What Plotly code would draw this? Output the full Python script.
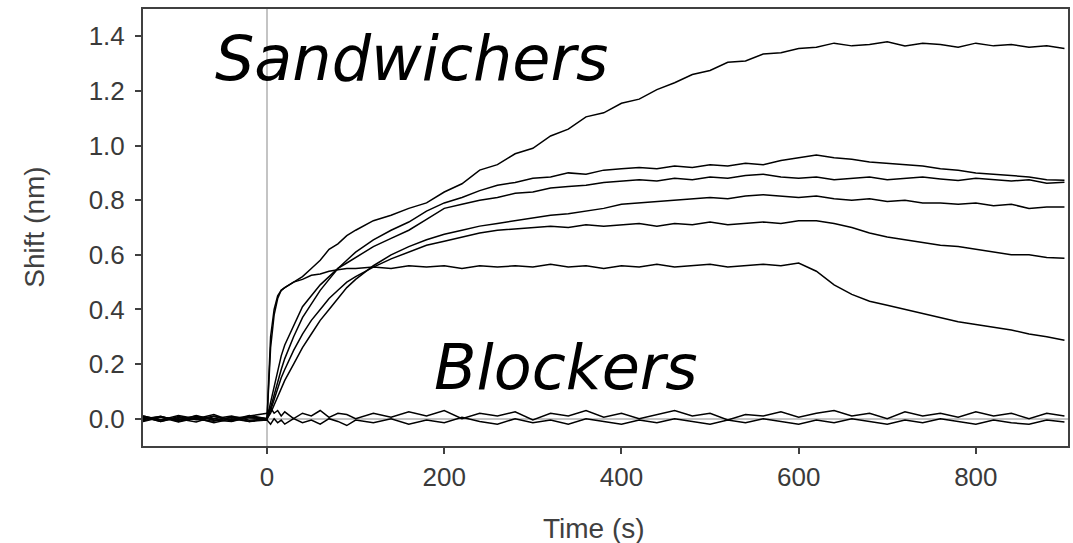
import plotly.graph_objects as go

# Time grid (s)
time_s = [-140, -120, -100, -80, -60, -40, -20, 0,
          4, 8, 12, 16, 20,
          30, 40, 50, 60, 70, 80, 90, 100,
          120, 140, 160, 180, 200, 220, 240, 260, 280, 300,
          320, 340, 360, 380, 400, 420, 440, 460, 480, 500,
          520, 540, 560, 580, 600, 620, 640, 660, 680, 700,
          720, 740, 760, 780, 800, 820, 840, 860, 880, 900]

# Sandwichers (nm)
sand_a = [0.005, -0.01, 0.008, -0.004, 0.01, -0.008, 0.006, 0.0,
          0.26, 0.38, 0.44, 0.47, 0.48,
          0.50, 0.52, 0.55, 0.58, 0.62, 0.64, 0.67, 0.69,
          0.725, 0.745, 0.77, 0.79, 0.83, 0.86, 0.91, 0.93, 0.97, 0.99,
          1.035, 1.06, 1.105, 1.12, 1.155, 1.17, 1.205, 1.23, 1.26, 1.275,
          1.305, 1.31, 1.335, 1.34, 1.355, 1.36, 1.375, 1.365, 1.37, 1.38,
          1.365, 1.375, 1.37, 1.36, 1.375, 1.365, 1.37, 1.36, 1.365, 1.355]
sand_b = [-0.008, 0.006, -0.003, 0.01, -0.006, 0.004, -0.01, 0.0,
          0.04, 0.09, 0.14, 0.18, 0.22,
          0.30, 0.37, 0.42, 0.47, 0.51, 0.55, 0.58, 0.61,
          0.655, 0.69, 0.72, 0.76, 0.79, 0.81, 0.835, 0.855, 0.865, 0.88,
          0.885, 0.90, 0.895, 0.91, 0.915, 0.92, 0.915, 0.925, 0.92, 0.93,
          0.925, 0.935, 0.93, 0.945, 0.955, 0.965, 0.955, 0.95, 0.94, 0.935,
          0.93, 0.925, 0.915, 0.91, 0.90, 0.895, 0.89, 0.885, 0.875, 0.873]
sand_c = [0.01, -0.005, 0.0, -0.012, 0.008, -0.004, 0.012, 0.0,
          0.06, 0.12, 0.18, 0.23, 0.27,
          0.34, 0.41, 0.45, 0.49, 0.52, 0.55, 0.57, 0.59,
          0.63, 0.66, 0.69, 0.73, 0.77, 0.785, 0.80, 0.81, 0.825, 0.83,
          0.845, 0.85, 0.855, 0.865, 0.87, 0.875, 0.87, 0.88, 0.875, 0.885,
          0.88, 0.89, 0.895, 0.885, 0.88, 0.885, 0.875, 0.88, 0.885, 0.875,
          0.88, 0.885, 0.878, 0.872, 0.88, 0.875, 0.87, 0.875, 0.862, 0.866]
sand_d = [-0.004, 0.009, -0.01, 0.005, 0.0, 0.01, -0.006, 0.0,
          0.02, 0.05, 0.08, 0.11, 0.14,
          0.20, 0.26, 0.31, 0.36, 0.40, 0.44, 0.48, 0.51,
          0.56, 0.60, 0.63, 0.655, 0.675, 0.69, 0.705, 0.715, 0.725, 0.735,
          0.745, 0.75, 0.76, 0.77, 0.785, 0.79, 0.795, 0.80, 0.805, 0.81,
          0.805, 0.815, 0.82, 0.815, 0.81, 0.815, 0.805, 0.80, 0.805, 0.795,
          0.80, 0.79, 0.79, 0.785, 0.79, 0.78, 0.785, 0.77, 0.775, 0.775]
sand_e = [0.007, -0.01, 0.004, -0.002, -0.009, 0.006, 0.003, 0.0,
          0.03, 0.07, 0.11, 0.15, 0.18,
          0.25, 0.31, 0.36, 0.40, 0.44, 0.47, 0.50, 0.52,
          0.555, 0.585, 0.61, 0.635, 0.65, 0.665, 0.68, 0.69, 0.695, 0.70,
          0.705, 0.70, 0.71, 0.705, 0.71, 0.715, 0.705, 0.715, 0.71, 0.72,
          0.71, 0.715, 0.72, 0.715, 0.725, 0.725, 0.715, 0.70, 0.68, 0.665,
          0.655, 0.645, 0.635, 0.63, 0.62, 0.61, 0.60, 0.60, 0.59, 0.587]
sand_f = [0.0, 0.008, -0.007, 0.012, -0.005, -0.01, 0.005, 0.0,
          0.30, 0.40, 0.45, 0.47, 0.48,
          0.50, 0.51, 0.525, 0.53, 0.54, 0.545, 0.55, 0.55,
          0.555, 0.55, 0.56, 0.555, 0.56, 0.55, 0.56, 0.555, 0.56, 0.555,
          0.565, 0.555, 0.56, 0.55, 0.56, 0.555, 0.565, 0.555, 0.56, 0.565,
          0.555, 0.56, 0.565, 0.56, 0.57, 0.54, 0.49, 0.455, 0.43, 0.415,
          0.40, 0.385, 0.37, 0.355, 0.345, 0.335, 0.325, 0.31, 0.30, 0.287]

# Blockers (nm)
block_1 = [0.01, -0.005, 0.012, 0.0, 0.015, -0.008, 0.01, 0.02,
           0.04, 0.02, 0.03, 0.01, 0.025,
           0.0, 0.02, 0.01, 0.03, 0.005, 0.02, 0.015, 0.0,
           0.02, 0.005, 0.025, 0.01, 0.03, 0.0, 0.02, 0.01, 0.025, -0.005,
           0.02, 0.01, 0.03, 0.005, 0.02, 0.0, 0.015, 0.03, 0.01, 0.02,
           -0.005, 0.015, 0.01, 0.025, 0.005, 0.02, 0.03, 0.01, 0.02, 0.0,
           0.025, 0.01, 0.02, 0.005, 0.025, 0.01, 0.02, 0.0, 0.02, 0.01]
block_2 = [-0.01, 0.005, -0.012, 0.002, -0.015, 0.0, -0.01, -0.005,
           -0.02, 0.0, -0.015, -0.005, -0.02,
           0.0, -0.015, -0.005, -0.02, 0.0, -0.01, -0.025, -0.005,
           -0.015, 0.0, -0.02, -0.005, -0.015, 0.005, -0.01, -0.02, 0.0, -0.015,
           -0.005, -0.02, 0.0, -0.01, -0.02, -0.005, -0.015, 0.0, -0.01, -0.02,
           -0.005, -0.015, 0.0, -0.01, -0.02, -0.005, -0.015, 0.0, -0.01, -0.02,
           -0.005, -0.015, 0.0, -0.01, -0.02, -0.005, -0.015, -0.02, -0.005, -0.012]

series = [sand_a, sand_b, sand_c, sand_d, sand_e, sand_f, block_1, block_2]
for s in series:
    assert len(s) == len(time_s), len(s)

x_ticks = [0, 200, 400, 600, 800]
y_ticks = [0.0, 0.2, 0.4, 0.6, 0.8, 1.0, 1.2, 1.4]
y_tick_text = ["0.0", "0.2", "0.4", "0.6", "0.8", "1.0", "1.2", "1.4"]

fig = go.Figure()
for s in series:
    fig.add_trace(go.Scatter(x=time_s, y=s, mode="lines",
                             line=dict(color="black", width=1.5),
                             showlegend=False, hoverinfo="skip"))

tick_font = dict(family="Liberation Sans, Arial, sans-serif", size=26, color="#3a3a3a")
axis_common = dict(showgrid=False, showline=True, mirror=True, linecolor="#404040",
                   linewidth=2, ticks="outside", ticklen=6, tickwidth=1.5,
                   tickcolor="#404040", tickfont=tick_font, zeroline=True,
                   zerolinecolor="#c4c4c4", zerolinewidth=1.5)

fig.update_layout(
    width=1073, height=543,
    margin=dict(l=143, r=3, t=9, b=97),
    paper_bgcolor="white", plot_bgcolor="white",
    xaxis=dict(range=[-140, 904], tickvals=x_ticks, ticklabelstandoff=1, **axis_common),
    yaxis=dict(range=[-0.1, 1.5], tickvals=y_ticks, ticktext=y_tick_text,
               ticklabelstandoff=5, **axis_common),
    annotations=[
        dict(text="Sandwichers", x=-61, y=1.32, xref="x", yref="y",
             xanchor="left", yanchor="middle", showarrow=False,
             font=dict(family="DejaVu Sans", size=62, color="black", style="italic")),
        dict(text="Blockers", x=186, y=0.186, xref="x", yref="y",
             xanchor="left", yanchor="middle", showarrow=False,
             font=dict(family="DejaVu Sans", size=62, color="black", style="italic")),
        dict(text="Time (s)", x=(595 - 143) / 927, y=(446 - 528) / 437,
             xref="paper", yref="paper", xanchor="center", yanchor="middle",
             showarrow=False,
             font=dict(family="Liberation Sans, Arial, sans-serif", size=28, color="#404040")),
        dict(text="Shift (nm)", x=(34 - 143) / 927, y=0.5, textangle=-90,
             xref="paper", yref="paper", xanchor="center", yanchor="middle",
             showarrow=False,
             font=dict(family="Liberation Sans, Arial, sans-serif", size=28, color="#404040")),
    ],
)

fig.write_html("out.html")
